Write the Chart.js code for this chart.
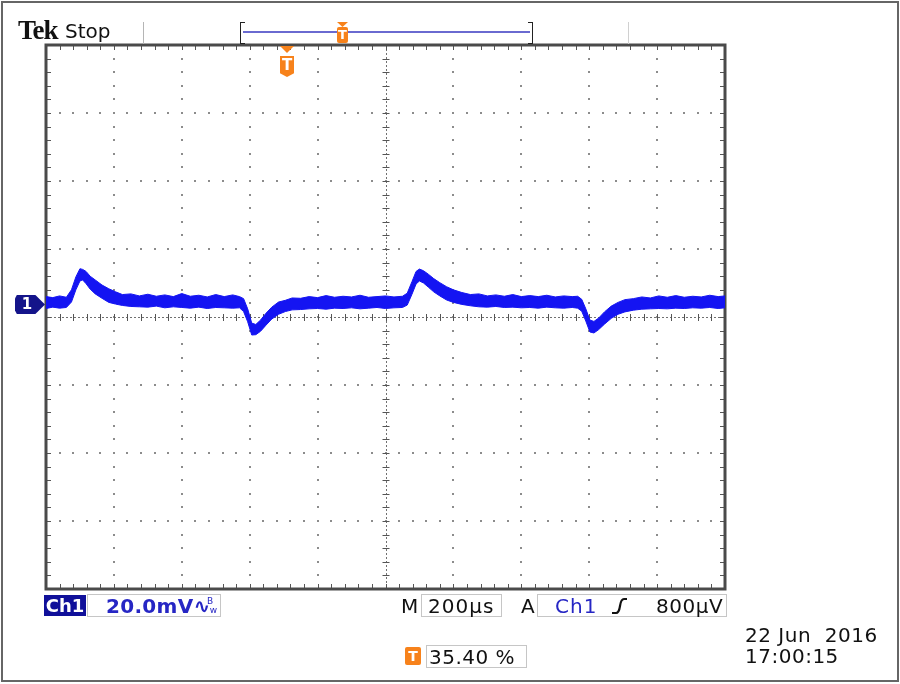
<!DOCTYPE html>
<html>
<head>
<meta charset="utf-8">
<script src="https://cdn.jsdelivr.net/npm/chart.js@4.4.0/dist/chart.umd.min.js"></script>
<style>
html, body { margin: 0; padding: 0; background: #fff; }
#wrap { position: relative; width: 900px; height: 684px; overflow: hidden; font-family: "DejaVu Sans", sans-serif; color: #111; }
#frame { position: absolute; left: 1px; top: 1px; width: 894px; height: 677px; border: 2px solid #666; }
canvas { position: absolute; left: 0; top: 0; }
.t { position: absolute; white-space: pre; line-height: 1; font-size: 20px; }
.box { position: absolute; border: 1.5px solid #c6c6c6; box-sizing: border-box; }
.vline { position: absolute; width: 1px; background: #b5b5b5; }
.orange { position: absolute; background: #f7821b; }
.blue { color: #2626c4; }
</style>
</head>
<body>
<div id="wrap">
  <canvas id="scope" width="900" height="684"></canvas>
  <div id="frame"></div>

  <!-- header -->
  <div class="t" style="left:18px; top:17px; font-family:'Liberation Serif',serif; font-weight:bold; font-size:27px; letter-spacing:-1px;">Tek</div>
  <div class="t" style="left:65px; top:21px;">Stop</div>
  <div class="vline" style="left:143px; top:22px; height:22px;"></div>
  <div class="vline" style="left:628px; top:22px; height:22px; background:#d0d0d0;"></div>
  <div style="position:absolute; left:240px; top:22px; width:4px; height:20px; border:1.5px solid #222; border-right:none;"></div>
  <div style="position:absolute; left:528px; top:22px; width:4px; height:20px; border:1.5px solid #222; border-left:none;"></div>
  <div style="position:absolute; left:243px; top:31px; width:287px; height:2px; background:#6a6ad0;"></div>
  <div class="orange" style="left:337px; top:22px; width:11px; height:5px; clip-path:polygon(0 0,100% 0,50% 100%);"></div>
  <div class="orange" style="left:337px; top:27px; width:11px; height:16px; border-radius:2px;"></div>
  <div class="t" style="left:337px; top:28px; width:11px; text-align:center; font-size:13px; font-weight:bold; color:#fff;">T</div>

  <!-- trigger position marker -->
  <div class="orange" style="left:280px; top:46px; width:14px; height:7px; clip-path:polygon(0 0,100% 0,50% 100%);"></div>
  <div class="orange" style="left:280px; top:56px; width:14px; height:21px; clip-path:polygon(0 0,100% 0,100% 82%,50% 100%,0 82%);"></div>
  <div class="t" style="left:280px; top:58px; width:14px; text-align:center; font-size:15px; font-weight:bold; color:#fff;">T</div>

  <!-- channel 1 ground marker -->
  <div style="position:absolute; left:15px; top:295px; width:30px; height:19px; background:#14148a; clip-path:polygon(0 18%,6% 0,68% 0,100% 50%,68% 100%,6% 100%,0 82%);"></div>
  <div class="t" style="left:19px; top:297px; width:16px; text-align:center; font-size:15px; font-weight:bold; color:#fff;">1</div>

  <!-- bottom status line -->
  <div style="position:absolute; left:44px; top:595px; width:42px; height:21px; background:#10109a;"></div>
  <div class="t" style="left:44px; top:597px; width:42px; text-align:center; font-size:18px; font-weight:bold; color:#fff;">Ch1</div>
  <div class="box" style="left:87px; top:594px; width:134px; height:23px;"></div>
  <div class="t blue" style="left:106px; top:596px; letter-spacing:0.3px; font-weight:bold;">20.0mV∿</div>
  <div class="t blue" style="left:207px; top:597px; font-size:9px; line-height:1;">B<br>&nbsp;w</div>

  <div class="t" style="left:401px; top:596px;">M</div>
  <div class="box" style="left:421px; top:594px; width:81px; height:23px;"></div>
  <div class="t" style="left:428px; top:596px; letter-spacing:1px;">200µs</div>

  <div class="t" style="left:521px; top:596px;">A</div>
  <div class="box" style="left:537px; top:594px; width:190px; height:23px;"></div>
  <div class="t blue" style="left:555px; top:596px; letter-spacing:1px;">Ch1</div>
  <svg style="position:absolute; left:611px; top:597px;" width="17" height="18">
    <path d="M1 16 L5 16 Q8 16 9 9 Q10 2 13 2 L16 2" fill="none" stroke="#111" stroke-width="2.2"/>
  </svg>
  <div class="t" style="left:656px; top:596px; letter-spacing:0.5px;">800µV</div>

  <div class="orange" style="left:405px; top:647px; width:16px; height:18px; border-radius:2px;"></div>
  <div class="t" style="left:405px; top:649px; width:16px; text-align:center; font-size:14px; font-weight:bold; color:#fff;">T</div>
  <div class="box" style="left:426px; top:645px; width:101px; height:23px;"></div>
  <div class="t" style="left:429px; top:647px; letter-spacing:0.5px;">35.40 %</div>

  <div class="t" style="left:745px; top:625px; letter-spacing:0.5px;">22 Jun  2016</div>
  <div class="t" style="left:745px; top:646px; letter-spacing:0.5px;">17:00:15</div>
</div>

<script>
// horizontal: 200 us/div, 10 divisions
const X_MIN = 0, X_MAX = 2000, X_STEP = 200;
// vertical: 20 mV/div, 8 divisions
const Y_MIN = -80, Y_MAX = 80, Y_STEP = 20;
const TRACE = '#1414f2';

// time of each sample (us)
const timeUs = [0, 20, 40, 60, 75, 88, 100, 108, 118, 130, 145, 165, 185, 205, 225, 250, 275, 300, 325, 350,
  375, 400, 425, 450, 475, 500, 525, 550, 570, 582, 594, 606, 618, 632, 648, 665, 685, 705, 725, 750,
  775, 800, 825, 850, 875, 900, 925, 950, 975, 1000, 1025, 1050, 1064, 1078, 1090, 1100, 1112, 1126, 1142, 1160,
  1180, 1200, 1225, 1250, 1275, 1300, 1325, 1350, 1375, 1400, 1425, 1450, 1475, 1500, 1525, 1550, 1566, 1578, 1590, 1602,
  1614, 1628, 1645, 1665, 1685, 1705, 1730, 1755, 1780, 1805, 1830, 1855, 1880, 1905, 1930, 1955, 1980, 2000];

// top edge of the noisy trace (mV)
const upperMv = [6.0, 5.7, 6.2, 5.8, 8.0, 11.8, 14.2, 14.0, 13.4, 12.0, 10.9, 9.4, 8.3, 7.4, 6.6, 6.8, 6.2, 6.7, 6.1, 6.5,
  6.0, 6.9, 6.1, 6.4, 5.9, 6.6, 6.0, 6.5, 6.0, 5.4, 2.4, -1.8, -2.2, -0.9, 1.1, 2.9, 4.4, 4.9, 5.6, 5.5,
  6.0, 5.7, 6.3, 5.8, 6.1, 5.9, 6.4, 5.8, 6.0, 6.2, 5.9, 6.1, 7.0, 10.4, 13.4, 14.1, 13.6, 12.6, 11.3, 10.1,
  8.9, 8.0, 7.2, 6.6, 6.8, 6.2, 6.5, 6.1, 6.6, 6.0, 6.3, 6.0, 6.4, 5.9, 6.2, 6.0, 6.1, 5.2, 2.4, -0.9,
  -1.3, -0.3, 1.5, 3.2, 4.3, 5.1, 5.4, 5.9, 5.6, 6.2, 5.8, 6.3, 5.8, 6.1, 5.9, 6.4, 6.0, 6.2];

// bottom edge of the noisy trace (mV)
const lowerMv = [2.5, 2.9, 2.6, 2.8, 4.4, 8.0, 10.6, 10.9, 9.8, 8.2, 6.8, 5.5, 4.3, 3.8, 3.4, 3.1, 3.0, 2.9, 3.2, 2.7,
  3.0, 2.8, 2.6, 2.9, 2.5, 2.8, 2.7, 2.6, 2.7, 1.6, -1.4, -5.3, -5.2, -4.2, -2.4, -0.6, 0.8, 1.6, 2.1, 2.2,
  2.4, 2.5, 2.3, 2.6, 2.5, 2.7, 2.4, 2.6, 2.8, 2.5, 2.7, 2.8, 3.5, 6.7, 9.7, 10.6, 10.0, 8.8, 7.4, 6.2,
  5.0, 4.3, 3.7, 3.3, 3.0, 2.9, 3.1, 2.8, 2.9, 2.7, 2.8, 2.6, 2.9, 2.7, 2.6, 2.8, 2.6, 1.7, -1.2, -4.4,
  -4.7, -3.7, -2.1, -0.4, 0.8, 1.5, 2.0, 2.3, 2.4, 2.5, 2.4, 2.6, 2.5, 2.7, 2.6, 2.8, 2.5, 2.7];

// oscilloscope graticule
const graticule = {
    id: 'graticule',
    beforeDatasetsDraw(chart) {
        const { ctx, chartArea: a, scales: { x, y } } = chart;
        const xDiv = (X_MAX - X_MIN) / X_STEP;
        const yDiv = (Y_MAX - Y_MIN) / Y_STEP;
        const xMid = x.getPixelForValue((X_MIN + X_MAX) / 2);
        const yMid = y.getPixelForValue((Y_MIN + Y_MAX) / 2);
        ctx.save();

        // dotted division lines
        ctx.fillStyle = '#8c8c8c';
        for (let i = 1; i < xDiv; i++) {
            if (i === xDiv / 2) continue;
            const px = Math.round(x.getPixelForValue(X_MIN + i * X_STEP));
            for (let j = 1; j < yDiv * 5; j++) {
                const py = Math.round(y.getPixelForValue(Y_MIN + j * Y_STEP / 5));
                ctx.fillRect(px - 1, py - 1, 2, 2);
            }
        }
        for (let j = 1; j < yDiv; j++) {
            if (j === yDiv / 2) continue;
            const py = Math.round(y.getPixelForValue(Y_MIN + j * Y_STEP));
            for (let i = 1; i < xDiv * 5; i++) {
                const px = Math.round(x.getPixelForValue(X_MIN + i * X_STEP / 5));
                ctx.fillRect(px - 1, py - 1, 2, 2);
            }
        }

        // centre cross with minor ticks
        ctx.strokeStyle = '#707070';
        ctx.lineWidth = 1;
        ctx.setLineDash([2, 2]);
        ctx.beginPath();
        ctx.moveTo(a.left, Math.round(yMid) + 0.5);
        ctx.lineTo(a.right, Math.round(yMid) + 0.5);
        ctx.moveTo(Math.round(xMid) + 0.5, a.top);
        ctx.lineTo(Math.round(xMid) + 0.5, a.bottom);
        ctx.stroke();
        ctx.setLineDash([]);
        ctx.strokeStyle = '#555';
        ctx.beginPath();
        for (let i = 1; i < xDiv * 5; i++) {
            const px = Math.round(x.getPixelForValue(X_MIN + i * X_STEP / 5)) + 0.5;
            ctx.moveTo(px, yMid - 3); ctx.lineTo(px, yMid + 4);
            // border ticks, top and bottom
            ctx.moveTo(px, a.top); ctx.lineTo(px, a.top + 5);
            ctx.moveTo(px, a.bottom); ctx.lineTo(px, a.bottom - 5);
        }
        for (let j = 1; j < yDiv * 5; j++) {
            const py = Math.round(y.getPixelForValue(Y_MIN + j * Y_STEP / 5)) + 0.5;
            ctx.moveTo(xMid - 3, py); ctx.lineTo(xMid + 4, py);
            ctx.moveTo(a.left, py); ctx.lineTo(a.left + 5, py);
            ctx.moveTo(a.right, py); ctx.lineTo(a.right - 5, py);
        }
        ctx.stroke();

        // outer border
        ctx.strokeStyle = '#4a4a4a';
        ctx.lineWidth = 3;
        ctx.strokeRect(a.left, a.top, a.width, a.height);
        ctx.restore();
    }
};

const ctx = document.getElementById('scope').getContext('2d');
window.scopeChart = new Chart(ctx, {
    type: 'line',
    data: {
        datasets: [{
            label: 'upper',
            data: timeUs.map((t, i) => ({ x: t, y: upperMv[i] })),
            borderColor: TRACE,
            borderWidth: 1,
            pointRadius: 0,
            tension: 0,
            fill: false
        }, {
            label: 'lower',
            data: timeUs.map((t, i) => ({ x: t, y: lowerMv[i] })),
            borderColor: TRACE,
            backgroundColor: TRACE,
            borderWidth: 1,
            pointRadius: 0,
            tension: 0,
            fill: '-1'
        }]
    },
    options: {
        responsive: false,
        animation: false,
        layout: { padding: { left: 46, top: 45, right: 175, bottom: 95 } },
        scales: {
            x: { type: 'linear', min: X_MIN, max: X_MAX, display: false },
            y: { type: 'linear', min: Y_MIN, max: Y_MAX, display: false }
        },
        plugins: {
            legend: { display: false },
            tooltip: { enabled: false }
        }
    },
    plugins: [graticule]
});
</script>
</body>
</html>
